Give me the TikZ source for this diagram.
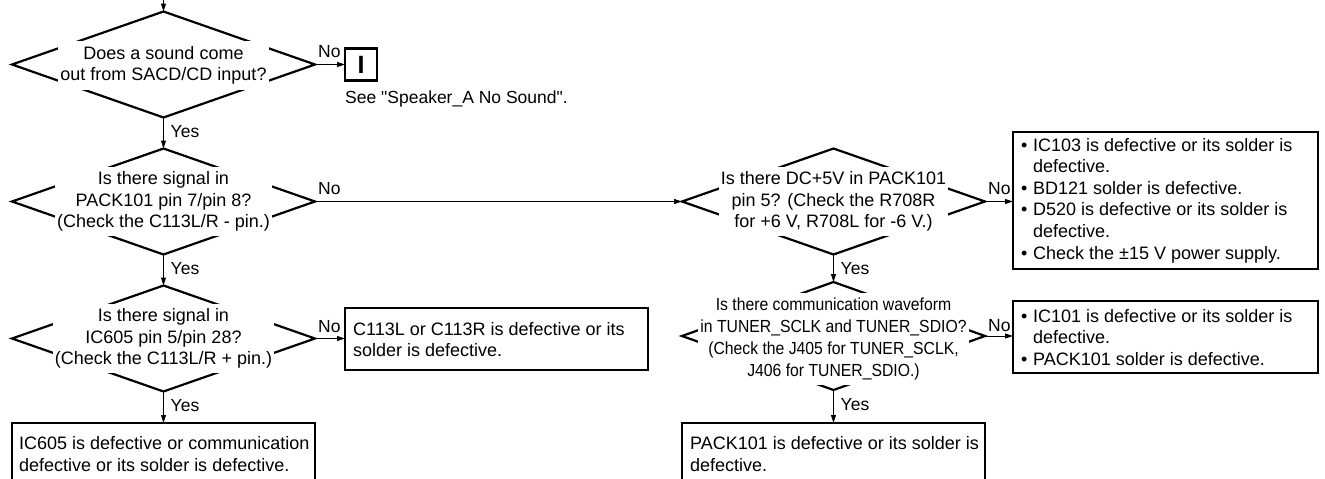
\documentclass[tikz,border=0pt]{standalone}
\usepackage{fontspec}
\setmainfont{Liberation Sans}[Ligatures=TeXOff]
\newfontfamily\narrowsans[FakeStretch=0.9]{Liberation Sans}
\usetikzlibrary{shapes.geometric,arrows.meta,calc}

\newcommand{\bulitem}{\makebox[15pt][l]{\hspace{3pt}•}}
\newcommand{\bulcont}{\hspace*{15pt}}

\tikzset{
  decision/.style={diamond, draw, line width=2.2pt, inner sep=0pt, outer sep=0pt,
    minimum width=303pt, minimum height=106pt},
  qtext/.style={fill=white, align=center, inner xsep=2pt, inner ysep=5pt,
    font=\fontsize{18}{21.6}\selectfont},
  frame/.style={draw, line width=2.2pt, outer sep=0pt, inner sep=0pt, anchor=north west},
  btext/.style={align=left, anchor=west, inner sep=0pt, font=\fontsize{18}{21.6}\selectfont},
  flow/.style={line width=1pt, -{Triangle[length=8pt,width=5pt]}},
  lbl/.style={inner sep=0pt, anchor=base west, font=\fontsize{17.5}{20}\selectfont},
}

\begin{document}
\begin{tikzpicture}[x=1pt,y=-1pt]
\useasboundingbox (0,0) rectangle (1325,479);
\clip (0,0) rectangle (1325,479);

% incoming flow
\coordinate (entry) at (163.5,-3);

% left column of checks
\node[decision] (q1) at (163.5,64.5) {};
\node[qtext] (q1t) at (163.5,65.5) {Does a sound come\\out from SACD/CD input?};

\node[draw, line width=2.8pt, minimum width=32pt, minimum height=32pt, inner sep=0pt,
  outer sep=0pt, font=\bfseries\fontsize{25}{25}\selectfont] (goto) at (361,64.5) {I};
\node[inner sep=0pt, anchor=base west, font=\fontsize{17.5}{20}\selectfont] (seenote)
  at (345,103) {See "Speaker\_A No Sound".};

\node[decision] (q2) at (163.5,201.5) {};
\node[qtext] (q2t) at (q2.center) {Is there signal in\\PACK101 pin 7/pin 8?\\(Check the C113L/R - pin.)};

\node[decision] (q3) at (163.5,338.5) {};
\node[qtext] (q3t) at (q3.center) {Is there signal in\\IC605 pin 5/pin 28?\\(Check the C113L/R + pin.)};

\node[frame, minimum width=303pt, minimum height=62pt] (capbad) at (345,308) {};
\node[btext] (capbadt) at ($(capbad.west)+(8,0.5)$)
  {C113L or C113R is defective or its\\solder is defective.};

\node[frame, minimum width=303pt, minimum height=62pt] (icbad) at (12,423) {};
\node[btext] (icbadt) at ($(icbad.west)+(7,0)$)
  {IC605 is defective or communication\\defective or its solder is defective.};

% right column of checks
\node[decision] (q4) at (833.5,201.5) {};
\node[qtext] (q4t) at (q4.center) {Is there DC+5V in PACK101\\pin 5? (Check the R708R\\for +6 V, R708L for -6 V.)};

\node[decision, minimum height=108pt] (q5) at (833.5,336) {};
\node[qtext, font=\narrowsans\fontsize{17.5}{21.7}\selectfont] (q5t) at (833.5,339)
  {Is there communication waveform\\in TUNER\_SCLK and TUNER\_SDIO?\\(Check the J405 for TUNER\_SCLK,\\J406 for TUNER\_SDIO.)};

\node[frame, minimum width=305pt, minimum height=137pt] (pwrbad) at (1013,132) {};
\node[btext] (pwrbadt) at ($(pwrbad.west)+(5,0)$)
  {\bulitem IC103 is defective or its solder is\\
   \bulcont defective.\\
   \bulitem BD121 solder is defective.\\
   \bulitem D520 is defective or its solder is\\
   \bulcont defective.\\
   \bulitem Check the ±15 V power supply.};

\node[frame, minimum width=305pt, minimum height=72pt] (combad) at (1013,301) {};
\node[btext] (combadt) at ($(combad.west)+(5,0.5)$)
  {\bulitem IC101 is defective or its solder is\\
   \bulcont defective.\\
   \bulitem PACK101 solder is defective.};

\node[frame, minimum width=303pt, minimum height=62pt] (packbad) at (682,423) {};
\node[btext] (packbadt) at ($(packbad.west)+(8,0)$)
  {PACK101 is defective or its solder is\\defective.};

% connectors
\draw[flow] (entry) -- (q1.north);
\draw[flow] (q1.east) -- (goto.west);
\draw[flow] (q1.south) -- (q2.north);
\draw[flow] (q2.east) -- (q4.west);
\draw[flow] (q2.south) -- (q3.north);
\draw[flow] (q3.east) -- (capbad.west |- q3.east);
\draw[flow] (q3.south) -- (icbad.north -| q3.south);
\draw[flow] (q4.east) -- (pwrbad.west |- q4.east);
\draw[flow] (q4.south) -- (q5.north);
\draw[flow] (q5.east) -- (combad.west |- q5.east);
\draw[flow] (q5.south) -- (packbad.north -| q5.south);

% branch labels
\node[lbl] (no1) at ($(q1.east)+(3,-7)$) {No};
\node[lbl] (yes1) at ($(q1.south)+(7,20)$) {Yes};
\node[lbl] (no2) at ($(q2.east)+(3,-7)$) {No};
\node[lbl] (yes2) at ($(q2.south)+(7,20)$) {Yes};
\node[lbl] (no3) at ($(q3.east)+(3,-6)$) {No};
\node[lbl] (yes3) at ($(q3.south)+(7,20)$) {Yes};
\node[lbl] (no4) at ($(q4.east)+(3,-7)$) {No};
\node[lbl] (yes4) at ($(q4.south)+(7,20)$) {Yes};
\node[lbl] (no5) at ($(q5.east)+(3,-5)$) {No};
\node[lbl] (yes5) at ($(q5.south)+(7,20)$) {Yes};
\end{tikzpicture}
\end{document}
